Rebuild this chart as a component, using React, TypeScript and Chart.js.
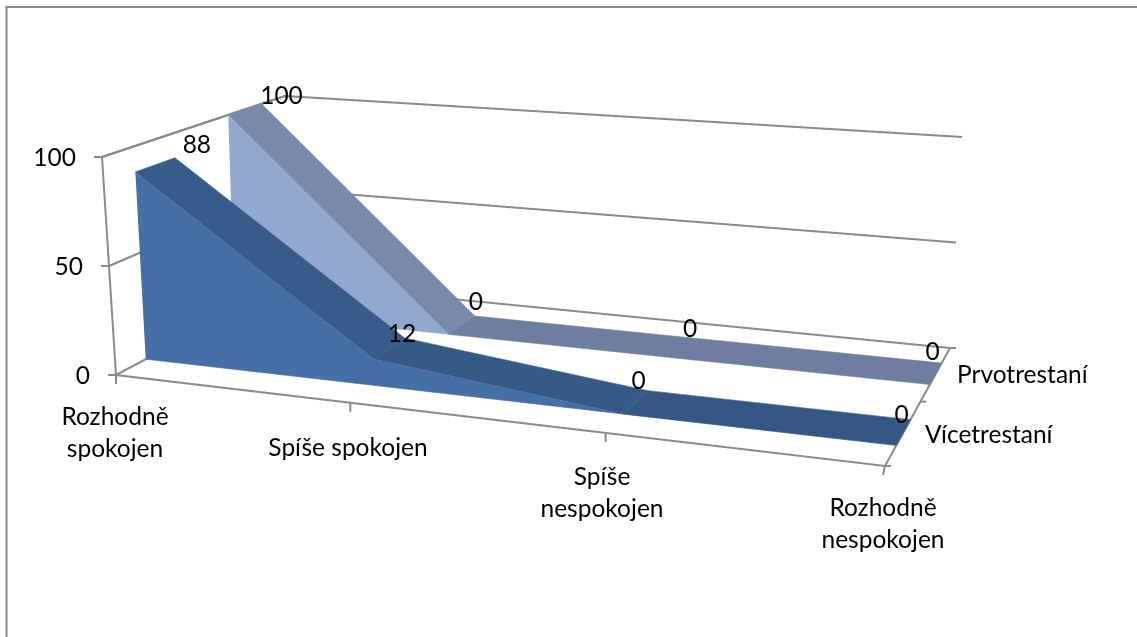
import React, { useEffect, useRef } from "react";
import { Chart, registerables } from "chart.js";

Chart.register(...registerables);

const categories = [["Rozhodně", "spokojen"], ["Spíše spokojen"], ["Spíše", "nespokojen"], ["Rozhodně", "nespokojen"]];
const seriesNames = ["Prvotrestaní", "Vícetrestaní"];
const prvotrestani = [100, 0, 0, 0];
const vicetrestani = [88, 12, 0, 0];
const valueTicks = [0, 50, 100];

// 3D box (image space) the values are projected through
const W = 1137, H = 637;
const PX_PER_VALUE = 2.183, ZERO_PX = 375;
type P = [number, number];
const floorQuad: P[] = [[116, 375], [885, 466], [950, 348], [289, 283]];
const topQuad: P[] = [[102, 157], [903, 220], [962, 137], [285, 96]];

function homography(q: P[]) {
  const [[x0, y0], [x1, y1], [x2, y2], [x3, y3]] = q;
  const dx1 = x1 - x2, dx2 = x3 - x2, sx = x0 - x1 + x2 - x3;
  const dy1 = y1 - y2, dy2 = y3 - y2, sy = y0 - y1 + y2 - y3;
  const den = dx1 * dy2 - dx2 * dy1;
  const g = (sx * dy2 - dx2 * sy) / den, h = (dx1 * sy - sx * dy1) / den;
  const a = x1 - x0 + g * x1, b = x3 - x0 + h * x3, d = y1 - y0 + g * y1, e = y3 - y0 + h * y3;
  return (u: number, v: number): P => {
    const w = g * u + h * v + 1;
    return [(a * u + b * v + x0) / w, (d * u + e * v + y0) / w];
  };
}
const floorH = homography(floorQuad);
const topH = homography(topQuad);
const toV = (y: number) => (ZERO_PX - y) / PX_PER_VALUE;
function project(cat: number, depth: number, value: number) {
  const u = cat / (categories.length - 1);
  const b = floorH(u, depth), t = topH(u, depth), k = value / 100;
  return { x: b[0] + (t[0] - b[0]) * k, y: toV(b[1] + (t[1] - b[1]) * k) };
}
const off = (p: { x: number; y: number }, dx: number, dy: number) => ({ x: p.x + dx, y: p.y - dy / PX_PER_VALUE });

const GRID = "#8a8a8a";
const lineDs = (data: any[], order: number, width = 2) => ({
  data, order, showLine: true, fill: false, borderColor: GRID, borderWidth: width, pointRadius: 0, clip: false as any, tension: 0,
});
const polyDs = (data: any[], color: string, order: number) => ({
  data, order, showLine: true, fill: "shape", backgroundColor: color, borderColor: color, borderWidth: 0.6, pointRadius: 0, clip: false as any, tension: 0,
});

function seriesSurfaces(vals: number[], d0: number, d1: number, front: string, slope: string[], startOrder: number) {
  const out: any[] = [];
  const fr = vals.map((v, i) => project(i, d0, v));
  const base = vals.map((_, i) => project(i, d0, 0)).reverse();
  out.push(polyDs([...fr, ...base], front, startOrder));
  vals.slice(0, -1).forEach((v, i) => {
    out.push(polyDs([project(i, d0, v), project(i, d1, v), project(i + 1, d1, vals[i + 1]), project(i + 1, d0, vals[i + 1])], slope[i], startOrder - 1 - i));
  });
  return out;
}

function buildDatasets() {
  const ds: any[] = [];
  // walls and floor
  valueTicks.forEach((t) => {
    const p = project(0, 0, t);
    ds.push(lineDs([p, project(0, 1, t), project(3, 1, t)], 100));
    ds.push(lineDs([off(p, -8, 0), p], 98));
  });
  ds.push(lineDs([project(0, 1, 100), project(0, 0, 100), project(0, 0, 0), project(3, 0, 0), project(3, 1, 0)], 99));
  [0, 1, 2, 3].forEach((i) => {
    const p = project(i, 0, 0);
    ds.push(lineDs([p, off(p, i === 3 ? -2 : 0, 9)], 98));
  });
  [0, 0.5, 1].forEach((d) => {
    const p = project(3, d, 0);
    ds.push(lineDs([p, off(p, 6, 0)], 98));
  });
  ds.push(...seriesSurfaces(prvotrestani, 0.65, 0.85, "#93a8cf", ["#7a8aab", "#6f7e9e", "#6f7e9e"], 60));
  ds.push(...seriesSurfaces(vicetrestani, 0.15, 0.35, "#4470a6", ["#385c8a", "#365a86", "#345783"], 40));
  return ds;
}

const FONT_SIZE = 24.5;
const FONT = `${FONT_SIZE}px Lato`;
const catPos: [number, number][] = [[115, 417], [348, 448], [602, 477], [883, 508]];
const LINE = 32;
const seriesPos: [number, number][] = [[957, 375], [925, 435]];
const labelOff: [number, number][][] = [
  [[20, -8], [1, -14], [-9, -10], [-9, -11]],
  [[22, -13], [-3, -4], [-9, -10], [-9, -5]],
];
const TICK_LABEL_GAP = 26;

const textPlugin = {
  id: "texts",
  beforeDraw(chart: any) {
    const c = chart.ctx;
    const xs = chart.scales.x, ys = chart.scales.y;
    c.save();
    c.strokeStyle = GRID;
    c.lineWidth = 2;
    c.beginPath();
    c.moveTo(6.5, H);
    c.lineTo(6.5, 7);
    c.lineTo(W, 7);
    c.stroke();
    c.restore();
    // value-axis labels follow the slanted axis line
    ys.getLabelItems().forEach((item: any, i: number) => {
      const p = project(0, 0, ys.ticks[i].value);
      item.options.translation[0] = xs.getPixelForValue(p.x) - TICK_LABEL_GAP;
      item.options.translation[1] = ys.getPixelForValue(p.y) + 1;
    });
  },
  afterDraw(chart: any) {
    const c = chart.ctx;
    const xs = chart.scales.x, ys = chart.scales.y;
    c.save();
    c.font = FONT;
    c.fillStyle = "#000";
    c.textBaseline = "middle";
    c.textAlign = "center";
    categories.forEach((lines, i) => {
      lines.forEach((t, j) => c.fillText(t, catPos[i][0], catPos[i][1] + j * LINE));
    });
    c.textAlign = "left";
    seriesNames.forEach((t, i) => c.fillText(t, seriesPos[i][0], seriesPos[i][1]));
    c.textAlign = "center";
    [prvotrestani, vicetrestani].forEach((vals, s) => {
      const d = s === 0 ? 0.85 : 0.35;
      vals.forEach((v, i) => {
        const p = project(i, d, v);
        c.fillText(String(v), xs.getPixelForValue(p.x) + labelOff[s][i][0], ys.getPixelForValue(p.y) + labelOff[s][i][1]);
      });
    });
    c.restore();
  },
};

export default function App() {
  const ref = useRef<HTMLCanvasElement>(null);
  useEffect(() => {
    const chart = new Chart(ref.current!, {
      type: "scatter",
      data: { datasets: buildDatasets() },
      plugins: [textPlugin],
      options: {
        animation: false,
        responsive: false,
        layout: { padding: 0 },
        plugins: { legend: { display: false }, tooltip: { enabled: false } },
        scales: {
          x: { type: "linear", display: false, min: 102, max: W },
          y: {
            type: "linear",
            position: "left",
            min: toV(H),
            max: toV(0),
            afterFit: (s: any) => { s.width = 102; s.paddingTop = 0; s.paddingBottom = 0; },
            afterBuildTicks: (s: any) => { s.ticks = valueTicks.map((value) => ({ value })); },
            border: { display: false },
            grid: { drawOnChartArea: false, drawTicks: false },
            ticks: { padding: 4, color: "#000", font: { family: "Lato", size: FONT_SIZE }, autoSkip: false, maxRotation: 0, callback: (v: any) => String(v) },
          },
        },
      } as any,
    });
    return () => chart.destroy();
  }, []);
  return (
    <div style={{ position: "fixed", left: 0, top: 0, width: W, height: H, background: "#fff" }}>
      <canvas ref={ref} width={W} height={H} style={{ display: "block" }} />
    </div>
  );
}
